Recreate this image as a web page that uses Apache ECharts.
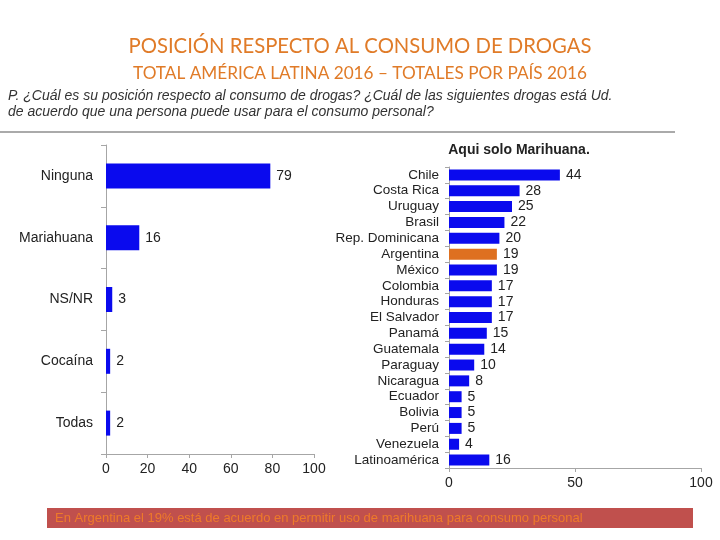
<!DOCTYPE html>
<html>
<head>
<meta charset="utf-8">
<script src="https://cdn.jsdelivr.net/npm/echarts@6/dist/echarts.min.js"></script>
<style>html,body{margin:0;padding:0;background:#fff;}#c{width:720px;height:540px;}</style>
</head>
<body>
<div id="c"></div>
<script>
const totalCategories = ['Ninguna', 'Mariahuana', 'NS/NR', 'Cocaína', 'Todas'];
const totalValues = [79, 16, 3, 2, 2];
const countryCategories = ['Chile', 'Costa Rica', 'Uruguay', 'Brasil', 'Rep. Dominicana', 'Argentina', 'México', 'Colombia', 'Honduras', 'El Salvador', 'Panamá', 'Guatemala', 'Paraguay', 'Nicaragua', 'Ecuador', 'Bolivia', 'Perú', 'Venezuela', 'Latinoamérica'];
const countryValues = [44, 28, 25, 22, 20, 19, 19, 17, 17, 17, 15, 14, 10, 8, 5, 5, 5, 4, 16];
const highlightCountry = 'Argentina';

const BLUE = '#0A0AEE';
const ORANGE = '#DE7020';
const AXIS = '#A6A6A6';
const FONT = '"Liberation Sans", Arial, sans-serif';

const chart = echarts.init(document.getElementById('c'), null, {renderer: 'canvas'});
chart.setOption({
  animation: false,
  backgroundColor: '#fff',
  title: [
    {text: 'POSICIÓN RESPECTO AL CONSUMO DE DROGAS', left: 'center', top: 36, padding: 0,
     textStyle: {fontFamily: 'Lato, sans-serif', fontWeight: 'normal', fontSize: 20.3, color: '#E07B28'}},
    {text: 'TOTAL AMÉRICA LATINA 2016 – TOTALES POR PAÍS 2016', left: 'center', top: 65, padding: 0,
     textStyle: {fontFamily: 'Lato, sans-serif', fontWeight: 'normal', fontSize: 17.2, color: '#E07B28'}},
    {text: 'P. ¿Cuál es su posición respecto al consumo de drogas? ¿Cuál de las siguientes drogas está Ud.\nde acuerdo que una persona puede usar para el consumo personal?', left: 8, top: 88, padding: 0,
     textStyle: {fontFamily: FONT, fontStyle: 'italic', fontWeight: 'normal', fontSize: 14, lineHeight: 16, color: '#333'}},
    {text: 'Aqui solo Marihuana.', left: 519, top: 143, padding: 0, textAlign: 'center',
     textStyle: {fontFamily: FONT, fontWeight: 'bold', fontSize: 14, color: '#222'}}
  ],
  graphic: [
    {type: 'line', shape: {x1: 0, y1: 132, x2: 675, y2: 132}, style: {stroke: '#AAAAAA', lineWidth: 2}},
    {type: 'rect', shape: {x: 47, y: 508, width: 646, height: 20}, style: {fill: '#C0504D'}},
    {type: 'text', x: 55, y: 518, style: {text: 'En Argentina el 19% está de acuerdo en permitir uso de marihuana para consumo personal', fill: '#EE7A2A', font: '13px ' + FONT, verticalAlign: 'middle'}}
  ],
  grid: [
    {left: 106, right: 406, top: 145, bottom: 86},
    {left: 449, right: 19, top: 167, bottom: 72}
  ],
  xAxis: [
    {gridIndex: 0, type: 'value', min: 0, max: 100, interval: 20,
     axisLine: {show: true, lineStyle: {color: AXIS}}, axisTick: {show: true, length: 4, lineStyle: {color: AXIS}},
     splitLine: {show: false}, axisLabel: {fontFamily: FONT, fontSize: 14, color: '#222', margin: 8}},
    {gridIndex: 1, type: 'value', min: 0, max: 100, interval: 50,
     axisLine: {show: true, lineStyle: {color: AXIS}}, axisTick: {show: true, length: 4, lineStyle: {color: AXIS}},
     splitLine: {show: false}, axisLabel: {fontFamily: FONT, fontSize: 14, color: '#222', margin: 8}}
  ],
  yAxis: [
    {gridIndex: 0, type: 'category', data: totalCategories, inverse: true,
     axisLine: {show: true, lineStyle: {color: AXIS}}, axisTick: {show: true, length: 5, lineStyle: {color: AXIS}},
     axisLabel: {fontFamily: FONT, fontSize: 14, color: '#222', margin: 13}},
    {gridIndex: 1, type: 'category', data: countryCategories, inverse: true,
     axisLine: {show: true, lineStyle: {color: AXIS}}, axisTick: {show: true, length: 4, lineStyle: {color: AXIS}},
     axisLabel: {fontFamily: FONT, fontSize: 13.5, color: '#222', margin: 10, interval: 0}}
  ],
  series: [
    {type: 'bar', xAxisIndex: 0, yAxisIndex: 0, data: totalValues, barWidth: 25,
     itemStyle: {color: BLUE},
     label: {show: true, position: 'right', distance: 6, fontFamily: FONT, fontSize: 14, color: '#222'}},
    {type: 'bar', xAxisIndex: 1, yAxisIndex: 1, barWidth: 11,
     data: countryValues.map((v, i) => ({value: v, itemStyle: {color: countryCategories[i] === highlightCountry ? ORANGE : BLUE}})),
     label: {show: true, position: 'right', distance: 6, fontFamily: FONT, fontSize: 14, color: '#222'}}
  ]
});
</script>
</body>
</html>
